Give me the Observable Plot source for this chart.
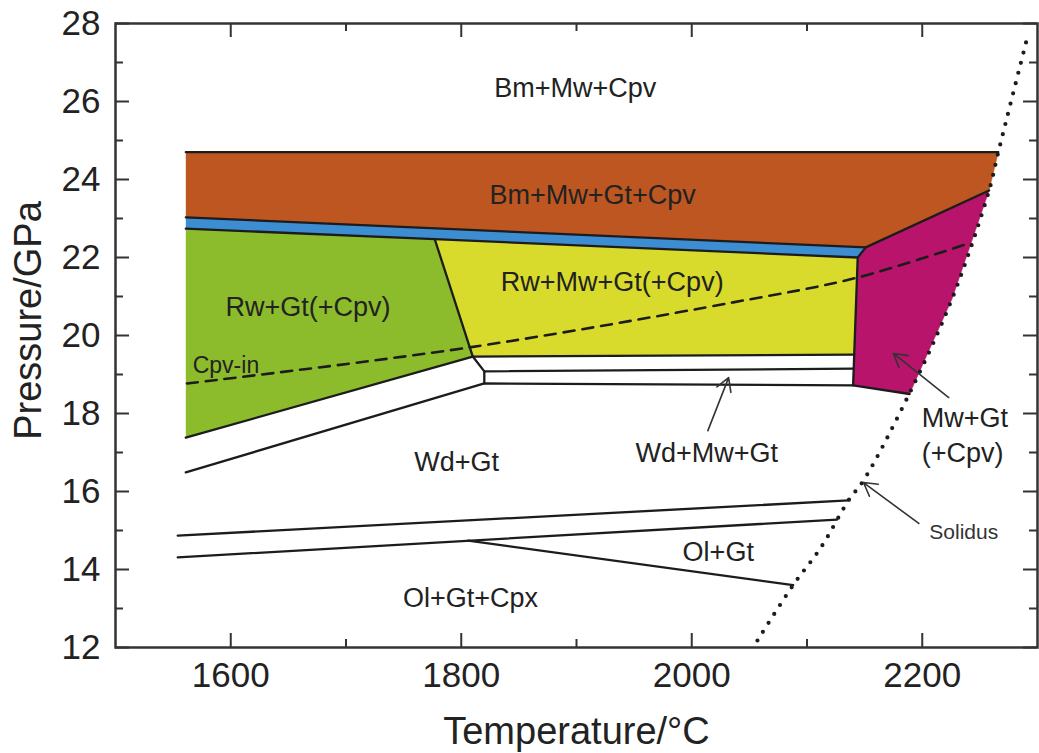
<!DOCTYPE html>
<html>
<head>
<meta charset="utf-8">
<script src="https://cdn.jsdelivr.net/npm/d3@7"></script>
<script src="https://cdn.jsdelivr.net/npm/@observablehq/plot@0.6"></script>
<style>
  html, body { margin: 0; padding: 0; background: #fff; }
</style>
</head>
<body>
<div id="chart"></div>
<script>
// ---- Phase fields (Temperature °C, Pressure GPa) ----
const fieldOrange  = [[1561,24.7],[2266,24.7],[2258,23.72],[2151,22.26],[1561,23.03]];  // Bm+Mw+Gt+Cpv
const fieldBlue    = [[1561,23.03],[2151,22.26],[2144,22.0],[1777,22.47],[1561,22.74]];
const fieldGreen   = [[1561,22.74],[1777,22.47],[1810,19.46],[1561,17.38]];              // Rw+Gt(+Cpv)
const fieldYellow  = [[1777,22.47],[2144,22.0],[2141,19.51],[1810,19.46]];               // Rw+Mw+Gt(+Cpv)
const fieldMagenta = [[2151,22.26],[2258,23.72],[2226,20.95],[2189,18.5],[2140,18.72],[2144,22.0]]; // Mw+Gt(+Cpv)
const fieldColors  = ["#bd5621", "#3d8dd3", "#8cbb2c", "#d8db2b", "#b8146b"];

// ---- Solid phase boundaries ----
const bOrangeTop    = [[1561,24.7],[2266,24.7]];
const bOrangeBottom = [[1561,23.03],[2151,22.26],[2258,23.72]];
const bBlueBottom   = [[1561,22.74],[1777,22.47],[2144,22.0],[2151,22.26]];
const bGreenYellow  = [[1777,22.47],[1810,19.46]];
const bGreenBottom  = [[1561,17.38],[1810,19.46]];
const bYellowBottom = [[1810,19.46],[2141,19.51]];
const bMagentaLeft  = [[2144,22.0],[2140,18.72]];
const bConnector    = [[1810,19.46],[1820,19.08],[1820,18.77]];
const bMiddle       = [[1820,19.08],[2140,19.15]];
const bWdUpper      = [[1561,16.49],[1820,18.77],[2140,18.72],[2189,18.5]];
const bOlUpper      = [[1554,14.87],[2136,15.77]];
const bOlLower      = [[1554,14.31],[2126,15.28]];
const bOlGt         = [[1806,14.74],[2088,13.6]];

// ---- Solidus (dotted) and Cpv-in (dashed) ----
const solidus = [[2057,12.18],[2088,13.6],[2112,14.56],[2136,15.77],[2149,16.28],[2188,18.46],[2226,20.95],[2258,23.72],[2266,24.7],[2292,27.74]];
const cpvIn   = [[1562,18.77],[1806,19.69],[2036,20.85],[2143,21.48],[2240,22.36]];

// ---- Labels ----
const fieldLabels = [
  {T:1899, P:26.33, text:"Bm+Mw+Cpv"},
  {T:1914, P:23.59, text:"Bm+Mw+Gt+Cpv"},
  {T:1667, P:20.72, text:"Rw+Gt(+Cpv)"},
  {T:1931, P:21.36, text:"Rw+Mw+Gt(+Cpv)"},
  {T:1796, P:16.74, text:"Wd+Gt"},
  {T:2013, P:16.97, text:"Wd+Mw+Gt"},
  {T:2237, P:17.87, text:"Mw+Gt"},
  {T:2235, P:16.97, text:"(+Cpv)"},
  {T:2023, P:14.44, text:"Ol+Gt"},
  {T:1808, P:13.26, text:"Ol+Gt+Cpx"}
];
const cpvLabel = [{T:1567, P:19.23, text:"Cpv-in"}];
const solidusLabel = [{T:2236, P:14.95, text:"Solidus"}];

// ---- Arrows (tail -> head) ----
const arrows = [
  {T1:2014, P1:17.56, T2:2032, P2:18.92},
  {T1:2223, P1:18.41, T2:2175, P2:19.54},
  {T1:2197, P1:15.18, T2:2149, P2:16.23}
];

// ---- Axis ticks ----
const xMajor = [1600, 1800, 2000, 2200];
const xMinor = [1700, 1900, 2100];
const yMajor = [12, 14, 16, 18, 20, 22, 24, 26, 28];
const yMinor = [13, 15, 17, 19, 21, 23, 25, 27];

const fields = [fieldOrange, fieldBlue, fieldGreen, fieldYellow, fieldMagenta];
const boundaries = [bOrangeTop, bOrangeBottom, bBlueBottom, bGreenYellow, bGreenBottom, bYellowBottom,
  bMagentaLeft, bConnector, bMiddle, bWdUpper, bOlUpper, bOlLower, bOlGt];

const W = 1039, H = 753, mL = 115, mR = 2, mT = 23, mB = 106;
const fw = W - mL - mR, fh = H - mT - mB;
const ink = "#1c1c1c";
const txt = "#222";

const marks = [];
fields.forEach((f, i) => {
  marks.push(Plot.line(f, {x: d => d[0], y: d => d[1], fill: fieldColors[i], stroke: fieldColors[i], strokeWidth: 0.5}));
});
boundaries.forEach(b => {
  marks.push(Plot.line(b, {x: d => d[0], y: d => d[1], stroke: ink, strokeWidth: 2.3, strokeLinejoin: "round"}));
});
marks.push(Plot.line(cpvIn, {x: d => d[0], y: d => d[1], curve: "catmull-rom", stroke: ink, strokeWidth: 2.6, strokeDasharray: "11,8"}));
marks.push(Plot.line(solidus, {x: d => d[0], y: d => d[1], curve: "catmull-rom", stroke: ink, strokeWidth: 4.2, strokeLinecap: "round", strokeDasharray: "0,10.5"}));

marks.push(Plot.arrow(arrows, {x1: "T1", y1: "P1", x2: "T2", y2: "P2", stroke: "#333", strokeWidth: 1.6, headLength: 14}));

const font = "'Liberation Sans', Arial, Helvetica, sans-serif";
marks.push(Plot.text(fieldLabels, {x: "T", y: "P", text: "text", fontSize: 27, fill: txt}));
marks.push(Plot.text(cpvLabel, {x: "T", y: "P", text: "text", fontSize: 23, fill: txt, textAnchor: "start"}));
marks.push(Plot.text(solidusLabel, {x: "T", y: "P", text: "text", fontSize: 21, fill: "#333"}));

// frame & ticks (inward)
marks.push(Plot.frame({stroke: "#333", strokeWidth: 2.5}));
marks.push(Plot.tickX(xMajor, {x: d => d, stroke: "#333", strokeWidth: 2, insetTop: fh - 14}));
marks.push(Plot.tickX(xMinor, {x: d => d, stroke: "#333", strokeWidth: 2, insetTop: fh - 8}));
marks.push(Plot.tickX(xMajor, {x: d => d, stroke: "#333", strokeWidth: 2, insetBottom: fh - 14}));
marks.push(Plot.tickX(xMinor, {x: d => d, stroke: "#333", strokeWidth: 2, insetBottom: fh - 8}));
marks.push(Plot.tickY(yMajor, {y: d => d, stroke: "#333", strokeWidth: 2, insetRight: fw - 14}));
marks.push(Plot.tickY(yMinor, {y: d => d, stroke: "#333", strokeWidth: 2, insetRight: fw - 8}));
marks.push(Plot.tickY(yMajor, {y: d => d, stroke: "#333", strokeWidth: 2, insetLeft: fw - 14}));
marks.push(Plot.tickY(yMinor, {y: d => d, stroke: "#333", strokeWidth: 2, insetLeft: fw - 8}));

marks.push(Plot.axisX(xMajor, {tickSize: 0, tickPadding: 15, fontSize: 35, label: null, fill: txt, tickFormat: d => String(d)}));
marks.push(Plot.axisY(yMajor, {tickSize: 0, tickPadding: 15, fontSize: 35, label: null, fill: txt, tickFormat: d => String(d)}));

marks.push(Plot.text(["Temperature/°C"], {frameAnchor: "bottom", lineAnchor: "bottom", dy: 96, fontSize: 38, fill: txt}));
marks.push(Plot.text(["Pressure/GPa"], {frameAnchor: "left", textAnchor: "middle", rotate: -90, dx: -87, dy: -15, fontSize: 38, fill: txt}));

const chart = Plot.plot({
  width: W, height: H,
  marginLeft: mL, marginRight: mR, marginTop: mT, marginBottom: mB,
  x: {domain: [1500, 2300]},
  y: {domain: [12, 28]},
  style: {fontFamily: font, background: "#fff", overflow: "visible"},
  marks
});
document.getElementById("chart").appendChild(chart);
</script>
</body>
</html>
